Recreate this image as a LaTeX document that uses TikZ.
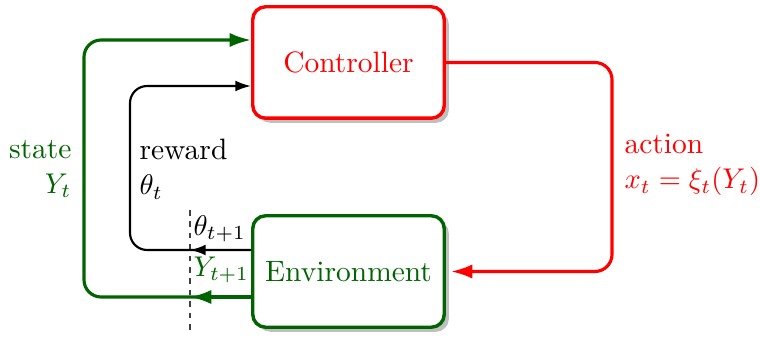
\documentclass[tikz,border=0pt]{standalone}
\usetikzlibrary{arrows.meta,shadows,calc}
\definecolor{dgreen}{RGB}{0,100,0}
\begin{document}
\begin{tikzpicture}[x=0.3509pt,y=-0.3509pt,
  every node/.style={font=\fontsize{10.35pt}{12.4pt}\selectfont},
  box/.style={draw,line width=1.2pt,rounded corners=4.5pt,fill=white,
    minimum width=67.2pt,minimum height=39.1pt,inner sep=0pt,
    drop shadow={shadow xshift=1.6pt,shadow yshift=-1.6pt,fill=black!25,opacity=1}},
  greenline/.style={draw=dgreen,line width=1.1pt,rounded corners=6pt,-{Latex[length=7.5pt,width=5pt]}},
  blackline/.style={draw=black,line width=0.75pt,rounded corners=6pt,-{Latex[length=5.5pt,width=3.8pt]}},
  redline/.style={draw=red,line width=1.1pt,rounded corners=6pt,-{Latex[length=7.5pt,width=5pt]}},
  lbl/.style={inner sep=0pt}]
\useasboundingbox (0,0) rectangle (760,340);
\node[box,draw=red,text=red] (ctrl) at (348.5,62.5) {Controller};
\node[box,draw=dgreen,text=dgreen] (env) at (348.5,271.5) {Environment};
% connectors
\coordinate (dtop) at (190,210);
\coordinate (dbot) at (190,333);
\draw[dash pattern=on 2pt off 2pt,line width=0.4pt,black!75] (dtop) -- (dbot);
\draw[greenline] (env.west |- 0,297) -- (84,297) -- (84,40) -- (ctrl.west |- 0,40);
\draw[blackline] (env.west |- 0,250) -- (130,250) -- (130,86) -- (ctrl.west |- 0,86);
\draw[draw=dgreen,line width=1.1pt,-{Latex[length=7.5pt,width=5pt]}] (env.west |- 0,297) -- (dtop |- 0,297);
\draw[draw=black,line width=0.75pt,-{Latex[length=5.5pt,width=3.8pt]}] (env.west |- 0,250) -- (dtop |- 0,250);
\draw[redline] (ctrl.east) -- (612,62.5) -- (612,271.5) -- ($(env.east)+(5,0)$);
% labels
\node[lbl,anchor=west,align=left] (rew) at (139,169) {reward\\$\theta_t$};
\node[lbl,anchor=east,align=right,text=dgreen] (st) at (72,169) {state\\$Y_t$};
\node[lbl,anchor=west,align=left,text=red] (act) at (624,165) {action\\$x_t=\xi_t(Y_t)$};
\node[lbl,anchor=west] (th1) at (193,229) {$\theta_{t+1}$};
\node[lbl,anchor=west,text=dgreen] (y1) at (193,270) {$Y_{t+1}$};
\end{tikzpicture}
\end{document}
